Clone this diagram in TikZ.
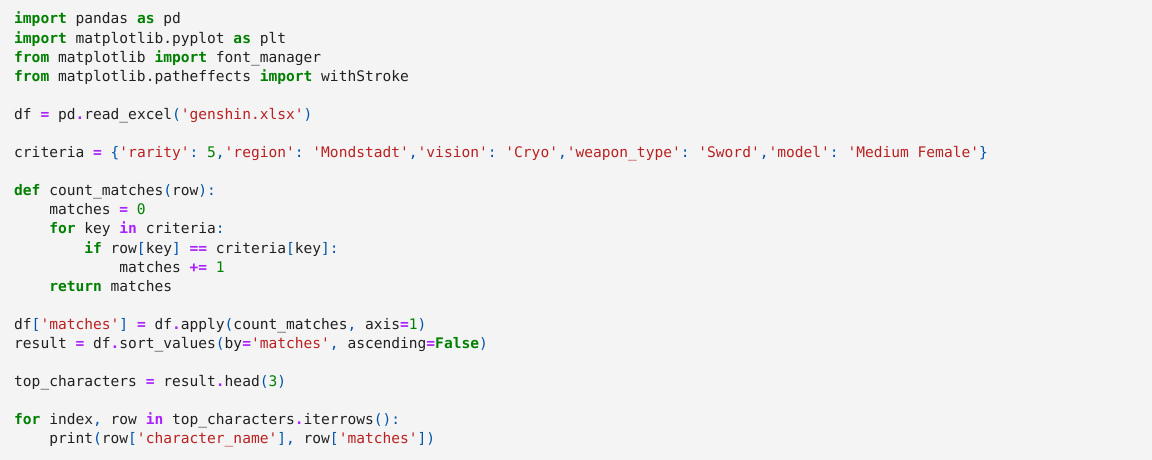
\documentclass[tikz,border=0pt]{standalone}
\usepackage{fontspec}
\setmonofont{DejaVu Sans Mono}
\usepackage{xcolor}
\usepackage{tikz}
\usetikzlibrary{positioning}

\definecolor{kwgreen}{HTML}{008000}
\definecolor{oppurple}{HTML}{AA22FF}
\definecolor{strred}{HTML}{BA2121}
\definecolor{punblue}{HTML}{0055AA}
\definecolor{codetext}{HTML}{212121}
\definecolor{cellbg}{HTML}{F4F4F4}

\newcommand{\codesize}{\ttfamily\fontsize{14.57pt}{19pt}\selectfont}
\newcommand{\kwd}[1]{\textcolor{kwgreen}{\bfseries #1}}
\newcommand{\opr}[1]{\textcolor{oppurple}{\bfseries #1}}
\newcommand{\strg}[1]{\textcolor{strred}{#1}}
\newcommand{\numb}[1]{\textcolor{kwgreen}{#1}}
\newcommand{\punc}[1]{\textcolor{punblue}{#1}}

\tikzset{
    codeline/.style={anchor=base west, inner sep=0pt, font=\codesize, text=codetext}
}

\begin{document}
\begin{tikzpicture}[x=1pt, y=-1pt]
            \fill[cellbg] (0,0) rectangle (1152,460);
            \useasboundingbox (0,0) rectangle (1152,460);

            % imports
            \node[codeline] (l1) at (14,24) {\kwd{import} pandas \kwd{as} pd};
            \node[codeline] (l2) at (14,43.09) {\kwd{import} matplotlib.pyplot \kwd{as} plt};
            \node[codeline] (l3) at (14,62.18) {\kwd{from} matplotlib \kwd{import} font\_manager};
            \node[codeline] (l4) at (14,81.27) {\kwd{from} matplotlib.patheffects \kwd{import} withStroke};

            \node[codeline] (l6) at (14,119.45) {df \opr{=} pd\opr{.}read\_excel\punc{(}\strg{'genshin.xlsx'}\punc{)}};

            \node[codeline] (l8) at (14,157.63) {criteria \opr{=} \punc{\{}\strg{'rarity'}\punc{:} \numb{5}\punc{,}\strg{'region'}\punc{:} \strg{'Mondstadt'}\punc{,}\strg{'vision'}\punc{:} \strg{'Cryo'}\punc{,}\strg{'weapon\_type'}\punc{:} \strg{'Sword'}\punc{,}\strg{'model'}\punc{:} \strg{'Medium Female'}\punc{\}}};

            % function
            \node[codeline] (l10) at (14,195.81) {\kwd{def} count\_matches\punc{(}row\punc{):}};
            \node[codeline] (l11) at (49.08,214.9) {matches \opr{=} \numb{0}};
            \node[codeline] (l12) at (49.08,233.99) {\kwd{for} key \opr{in} criteria\punc{:}};
            \node[codeline] (l13) at (84.16,253.08) {\kwd{if} row\punc{[}key\punc{]} \opr{==} criteria\punc{[}key\punc{]:}};
            \node[codeline] (l14) at (119.24,272.17) {matches \opr{+=} \numb{1}};
            \node[codeline] (l15) at (49.08,291.26) {\kwd{return} matches};

            \node[codeline] (l17) at (14,329.44) {df\punc{[}\strg{'matches'}\punc{]} \opr{=} df\opr{.}apply\punc{(}count\_matches\punc{,} axis\opr{=}\numb{1}\punc{)}};
            \node[codeline] (l18) at (14,348.53) {result \opr{=} df\opr{.}sort\_values\punc{(}by\opr{=}\strg{'matches'}\punc{,} ascending\opr{=}\kwd{False}\punc{)}};

            \node[codeline] (l20) at (14,386.71) {top\_characters \opr{=} result\opr{.}head\punc{(}\numb{3}\punc{)}};

            % loop
            \node[codeline] (l22) at (14,424.89) {\kwd{for} index\punc{,} row \opr{in} top\_characters\opr{.}iterrows\punc{():}};
            \node[codeline] (l23) at (49.08,443.98) {print\punc{(}row\punc{[}\strg{'character\_name'}\punc{],} row\punc{[}\strg{'matches'}\punc{])}};
\end{tikzpicture}
\end{document}
